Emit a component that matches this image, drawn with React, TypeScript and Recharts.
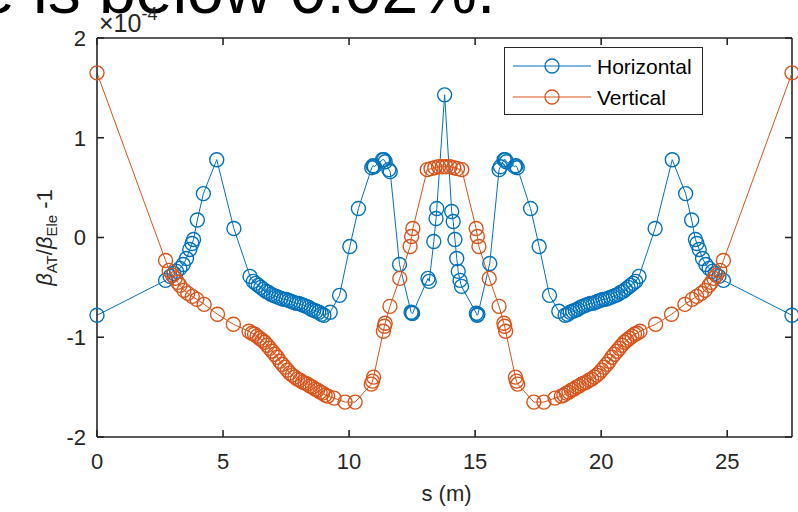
import { LineChart, Line, XAxis, YAxis, Legend, ReferenceLine } from 'recharts';

const AXIS = '#262626';
const BLUE = '#0072BD';
const ORANGE = '#D95319';
const FONT = '"Liberation Sans", Arial, Helvetica, sans-serif';

// beta beating along the ring, s in metres, values in units of 1e-4
const horizontalS = [
  0.0, 2.72, 2.9, 3.05, 3.16, 3.29, 3.42, 3.55, 3.68, 3.77, 3.83, 3.98, 4.22, 4.75, 5.43, 6.07, 6.2,
  6.3, 6.4, 6.5, 6.6, 6.7, 6.8, 6.9, 7.0, 7.1, 7.2, 7.3, 7.4, 7.5, 7.6, 7.7, 7.8, 7.9, 8.0, 8.1, 8.2,
  8.3, 8.4, 8.5, 8.6, 8.7, 8.8, 8.9, 9.0, 9.25, 9.62, 10.03, 10.37, 10.9, 10.95, 11.0, 11.33, 11.38,
  11.43, 11.58, 11.63, 12.0, 12.46, 12.49, 12.52, 13.13, 13.18, 13.36, 13.45, 13.48, 13.79,
  14.07, 14.13, 14.2, 14.27, 14.33, 14.4, 14.46, 15.05, 15.08, 15.11, 15.58, 15.95, 16.0, 16.15,
  16.2, 16.24, 16.57, 16.62, 16.67, 17.2, 17.54, 17.95, 18.32,
  18.57, 18.67, 18.77, 18.87, 18.97, 19.07, 19.17, 19.27, 19.37, 19.47, 19.57, 19.67, 19.77, 19.87,
  19.97, 20.07, 20.17, 20.27, 20.37, 20.47, 20.57, 20.67, 20.77, 20.87, 20.97, 21.07, 21.17, 21.27,
  21.37, 21.5, 22.14, 22.82, 23.35, 23.59, 23.74, 23.8, 23.89, 24.02, 24.15, 24.28, 24.41, 24.52,
  24.67, 24.85, 27.57,
];
const horizontalBeat = [
  -0.78, -0.43, -0.39, -0.36, -0.34, -0.31, -0.27, -0.21, -0.12, -0.06, -0.02, 0.175, 0.44, 0.78, 0.09, -0.39, -0.44,
  -0.46, -0.48, -0.5, -0.52, -0.54, -0.55, -0.57, -0.58, -0.59, -0.6, -0.61, -0.62, -0.62, -0.63, -0.64, -0.65, -0.66, -0.66, -0.67, -0.68,
  -0.69, -0.7, -0.72, -0.73, -0.74, -0.75, -0.77, -0.78, -0.75, -0.58, -0.09, 0.29, 0.7, 0.72, 0.71, 0.78, 0.78,
  0.76, 0.68, 0.66, -0.27, -0.75, -0.76, -0.76, -0.41, -0.44, -0.04, 0.19, 0.29, 1.43,
  0.26, 0.16, -0.02, -0.21, -0.34, -0.43, -0.49, -0.76, -0.78, -0.77, -0.26, 0.68, 0.71, 0.78,
  0.78, 0.76, 0.71, 0.72, 0.7, 0.29, -0.09, -0.58, -0.74,
  -0.78, -0.77, -0.75, -0.74, -0.73, -0.72, -0.7, -0.69, -0.68, -0.67, -0.66, -0.66, -0.65, -0.64,
  -0.63, -0.62, -0.62, -0.61, -0.6, -0.59, -0.58, -0.57, -0.55, -0.54, -0.52, -0.5, -0.48, -0.46,
  -0.44, -0.39, 0.09, 0.78, 0.44, 0.175, -0.02, -0.06, -0.12, -0.21, -0.27, -0.31, -0.34, -0.36,
  -0.39, -0.43, -0.78,
];

const verticalS = [
  0.0, 2.72, 2.86, 3.0, 3.1, 3.2, 3.29, 3.45, 3.6, 3.78, 3.96, 4.25, 4.78, 5.41, 6.03,
  6.15, 6.25, 6.35, 6.45, 6.55, 6.65, 6.75, 6.85, 6.95, 7.05, 7.15, 7.25, 7.35, 7.45, 7.55, 7.65,
  7.75, 7.85, 7.95, 8.05, 8.15, 8.25, 8.35, 8.45, 8.55, 8.65, 8.75, 8.85, 8.95, 9.05, 9.15,
  9.4, 9.84, 10.24, 10.88, 10.93, 10.97, 11.36, 11.4, 11.43, 11.62, 12.01, 12.42, 12.48, 12.53,
  13.1, 13.25, 13.4, 13.55, 13.7, 13.85, 14.0, 14.15, 14.3, 14.47,
  15.04, 15.09, 15.15, 15.56, 15.95, 16.14, 16.17, 16.21, 16.6, 16.64, 16.69, 17.33, 17.73, 18.17,
  18.42, 18.52, 18.62, 18.72, 18.82, 18.92, 19.02, 19.12, 19.22, 19.32, 19.42, 19.52, 19.62, 19.72,
  19.82, 19.92, 20.02, 20.12, 20.22, 20.32, 20.42, 20.52, 20.62, 20.72, 20.82, 20.92, 21.02, 21.12,
  21.22, 21.32, 21.42, 21.54, 22.16, 22.79, 23.32, 23.61, 23.79, 23.97, 24.12, 24.28, 24.37, 24.47,
  24.57, 24.71, 24.85, 27.57,
];
const verticalBeat = [
  1.65, -0.23, -0.33, -0.38, -0.41, -0.45, -0.48, -0.53, -0.56, -0.59, -0.62, -0.67, -0.77, -0.87, -0.94,
  -0.96, -0.97, -0.99, -1.01, -1.03, -1.05, -1.08, -1.11, -1.14, -1.17, -1.2, -1.24, -1.27, -1.3, -1.33, -1.36,
  -1.38, -1.4, -1.42, -1.43, -1.45, -1.46, -1.47, -1.49, -1.5, -1.52, -1.53, -1.55, -1.56, -1.58, -1.59,
  -1.61, -1.65, -1.65, -1.47, -1.44, -1.4, -0.94, -0.89, -0.86, -0.69, -0.41, -0.09, 0.01, 0.09,
  0.68, 0.69, 0.7, 0.71, 0.71, 0.71, 0.71, 0.7, 0.69, 0.68,
  0.09, 0.01, -0.09, -0.41, -0.69, -0.86, -0.89, -0.94, -1.4, -1.44, -1.47, -1.65, -1.65, -1.61,
  -1.59, -1.58, -1.56, -1.55, -1.53, -1.52, -1.5, -1.49, -1.47, -1.46, -1.45, -1.43, -1.42, -1.4,
  -1.38, -1.36, -1.33, -1.3, -1.27, -1.24, -1.2, -1.17, -1.14, -1.11, -1.08, -1.05, -1.03, -1.01,
  -0.99, -0.97, -0.96, -0.94, -0.87, -0.77, -0.67, -0.62, -0.59, -0.56, -0.53, -0.48, -0.45, -0.41,
  -0.38, -0.33, -0.23, 1.65,
];

const xTicks = [0, 5, 10, 15, 20, 25];
const yTicks = [-2, -1, 0, 1, 2];
const sMax = 27.57;
const yMin = -2;
const yMax = 2;

// plot box in px, used to turn the 7px inner tick length into data units
const PLOT_W = 695;
const PLOT_H = 399;
const TICK = 7;
const tickDy = (TICK * (yMax - yMin)) / PLOT_H;
const tickDx = (TICK * sMax) / PLOT_W;

const horizontal = horizontalS.map((s, i) => ({ s, beat: horizontalBeat[i] }));
const vertical = verticalS.map((s, i) => ({ s, beat: verticalBeat[i] }));

const series = [
  { name: 'Horizontal', color: BLUE, data: horizontal },
  { name: 'Vertical', color: ORANGE, data: vertical },
];

function LegendBox() {
  return (
    <div style={{ width: 199, height: 68, border: `1px solid ${AXIS}`, background: '#fff', boxSizing: 'border-box' }}>
      <svg width={197} height={66} style={{ display: 'block' }}>
        {series.map((r, i) => {
          const y = 18 + i * 31;
          return (
            <g key={r.name}>
              <line x1={8} x2={86} y1={y} y2={y} stroke={r.color} strokeWidth={1} />
              <circle cx={47} cy={y} r={7} fill="none" stroke={r.color} strokeWidth={1.3} />
              <text x={92} y={y} dy="0.36em" fontSize={21} fontFamily={FONT} fill="#000">
                {r.name}
              </text>
            </g>
          );
        })}
      </svg>
    </div>
  );
}

function YTitle({ viewBox }: any) {
  const cx = viewBox.x + 52;
  const cy = viewBox.y + viewBox.height / 2;
  return (
    <text transform={`translate(${cx},${cy}) rotate(-90)`} textAnchor="middle" fontSize={22} fontFamily={FONT} fill={AXIS}>
      <tspan fontStyle="italic">β</tspan>
      <tspan fontSize={15} dy={5}>AT</tspan>
      <tspan dy={-5}>/</tspan>
      <tspan fontStyle="italic">β</tspan>
      <tspan fontSize={15} dy={5}>Ele</tspan>
      <tspan dy={-5}> -1</tspan>
    </text>
  );
}

function XTitle({ viewBox }: any) {
  return (
    <text x={viewBox.x + viewBox.width / 2 + 2} y={viewBox.y + 64} textAnchor="middle" fontSize={22} fontFamily={FONT} fill={AXIS}>
      s (m)
    </text>
  );
}

export default function App() {
  const tickStyle = { fill: AXIS, fontSize: 22, fontFamily: FONT };
  const axisLine = { stroke: AXIS, strokeWidth: 1.6 };
  const tickLine = { stroke: AXIS, strokeWidth: 1.6 };
  return (
    <div style={{ position: 'absolute', left: 0, top: 0, width: 798, height: 512, background: '#fff', overflow: 'hidden' }}>
      <svg width={798} height={40} style={{ position: 'absolute', left: 0, top: 0 }}>
        <text x={-22} y={13} fontSize={66} fontFamily={FONT} fill="#000">
          e is below 0.02%.
        </text>
      </svg>
      <svg width={200} height={40} style={{ position: 'absolute', left: 0, top: 0 }}>
        <text x={99} y={32} fontSize={25} fontFamily={FONT} fill={AXIS}>
          ×10
          <tspan fontSize={18} dy={-12}>-4</tspan>
        </text>
      </svg>
      <LineChart width={798} height={512} margin={{ top: 38, right: 6, bottom: 0, left: 0 }}>
        <XAxis
          dataKey="s"
          type="number"
          domain={[0, sMax]}
          ticks={xTicks}
          height={75}
          tickSize={-TICK}
          tickMargin={23}
          tick={tickStyle}
          axisLine={axisLine}
          tickLine={tickLine}
          label={<XTitle />}
        />
        <YAxis
          type="number"
          domain={[yMin, yMax]}
          ticks={yTicks}
          width={97}
          tickSize={-TICK}
          tickMargin={18}
          tick={tickStyle}
          axisLine={axisLine}
          tickLine={tickLine}
          label={<YTitle />}
        />
        {/* closed box: top and right edges with inward ticks */}
        <ReferenceLine y={yMax} stroke={AXIS} strokeWidth={1.6} />
        <ReferenceLine x={sMax} stroke={AXIS} strokeWidth={1.6} />
        {xTicks.map((t) => (
          <ReferenceLine
            key={`tx${t}`}
            segment={[{ x: t, y: yMax }, { x: t, y: yMax - tickDy }]}
            stroke={AXIS}
            strokeWidth={1.6}
          />
        ))}
        {yTicks.map((t) => (
          <ReferenceLine
            key={`ty${t}`}
            segment={[{ x: sMax, y: t }, { x: sMax - tickDx, y: t }]}
            stroke={AXIS}
            strokeWidth={1.6}
          />
        ))}
        <Legend
          layout="horizontal"
          verticalAlign="middle"
          align="center"
          wrapperStyle={{ left: 504, top: 47, width: 199, height: 68 }}
          content={() => <LegendBox />}
        />
        {series.map((r) => (
          <Line
            key={r.name}
            data={r.data}
            dataKey="beat"
            name={r.name}
            type="linear"
            stroke={r.color}
            strokeWidth={1}
            dot={{ r: 7, fill: 'none', stroke: r.color, strokeWidth: 1.4 }}
            isAnimationActive={false}
          />
        ))}
      </LineChart>
    </div>
  );
}
